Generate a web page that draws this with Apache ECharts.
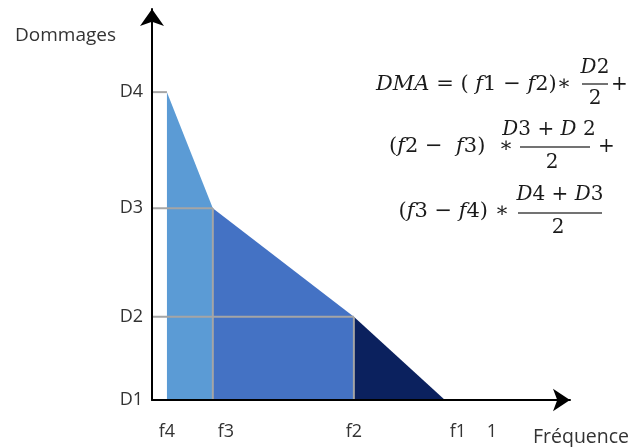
<!DOCTYPE html>
<html>
<head>
<meta charset="UTF-8">
<title>DMA</title>
<script src="https://cdn.jsdelivr.net/npm/echarts@6/dist/echarts.min.js"></script>
<style>
  html, body { margin: 0; padding: 0; background: #fff; }
  #main { width: 635px; height: 447px; }
</style>
</head>
<body>
<div id="main"></div>
<script>
// frequences (axe x) et dommages (axe y)
var freqLabels = ['f4', 'f3', 'f2', 'f1', '1'];
var freqValues = [0.044, 0.179, 0.594, 0.862, 1];
var damageLabels = ['D1', 'D2', 'D3', 'D4'];
var damageValues = [0, 0.27, 0.623, 1];

var f4 = freqValues[0], f3 = freqValues[1], f2 = freqValues[2], f1 = freqValues[3];
var D1 = damageValues[0], D2 = damageValues[1], D3 = damageValues[2], D4 = damageValues[3];

// zones sous la courbe
var regions = [
  { color: '#5b9bd5', pts: [[f4, D1], [f4, D4], [f3, D3], [f3, D1]] },
  { color: '#4472c4', pts: [[f3, D1], [f3, D3], [f2, D2], [f2, D1]] },
  { color: '#0b215e', pts: [[f2, D1], [f2, D2], [f1, D1]] }
];
// lignes de repere grises
var guides = [
  [[0, D4], [f4, D4]],
  [[0, D3], [f3, D3]],
  [[0, D2], [f2, D2]],
  [[f3, D1], [f3, D3]],
  [[f2, D1], [f2, D2]]
];

var labelShift = { f3: 14, f1: 12 };
var myChart = echarts.init(document.getElementById('main'));

var series = [];
regions.forEach(function (r) {
  series.push({
    type: 'custom',
    silent: true,
    z: 1,
    data: [[0, 0]],
    renderItem: function (params, api) {
      return {
        type: 'polygon',
        shape: { points: r.pts.map(function (p) { return api.coord(p); }) },
        style: { fill: r.color }
      };
    }
  });
});
guides.forEach(function (g) {
  series.push({
    type: 'line',
    silent: true,
    z: 3,
    symbol: 'none',
    data: g,
    lineStyle: { color: '#a5a5a5', width: 2 }
  });
});

var mathFont = '"DejaVu Serif", serif';
var txt = function (x, y, text, align, size) {
  size = size || 20;
  return {
    type: 'text', x: x, y: y,
    style: {
      text: text, fill: '#1a1a1a', font: size + 'px ' + mathFont,
      align: align || 'left', verticalAlign: 'middle',
      rich: { i: { fontStyle: 'italic', fontSize: size, fontFamily: mathFont, fill: '#1a1a1a' } }
    }
  };
};
var bar = function (x1, x2, y) {
  return { type: 'line', shape: { x1: x1, y1: y, x2: x2, y2: y }, style: { stroke: '#444', lineWidth: 1.5 } };
};

var option = {
  animation: false,
  grid: { left: 152, right: 65, top: 9, bottom: 47 },
  xAxis: {
    type: 'value', min: 0, max: 1.23, z: 5,
    splitLine: { show: false },
    axisTick: { show: false },
    axisLine: { show: true, onZero: false, symbol: ['none', 'arrow'], symbolSize: [17, 17], lineStyle: { color: '#000', width: 2 } },
    axisLabel: {
      customValues: freqValues, margin: 23, color: '#333', fontSize: 18, fontFamily: 'Open Sans',
      formatter: function (v) {
        var l = freqLabels[freqValues.indexOf(v)];
        return labelShift[l] ? '{s|' + l + '}' : l;
      },
      rich: { s: { padding: [0, 0, 0, 26], color: '#333', fontSize: 18, fontFamily: 'Open Sans' } }
    }
  },
  yAxis: {
    type: 'value', min: 0, max: 1.27, z: 5,
    splitLine: { show: false },
    axisTick: { show: false },
    axisLine: { show: true, onZero: false, symbol: ['none', 'arrow'], symbolSize: [18, 17], lineStyle: { color: '#000', width: 2 } },
    axisLabel: {
      customValues: damageValues, margin: 9, color: '#333', fontSize: 18, fontFamily: 'Open Sans',
      formatter: function (v) { return damageLabels[damageValues.indexOf(v)]; }
    }
  },
  graphic: [
    { type: 'text', x: 15, y: 36, style: { text: 'Dommages', fill: '#333', font: '19px "Open Sans"', verticalAlign: 'middle' } },
    { type: 'text', x: 533, y: 437, style: { text: 'Fréquence', fill: '#333', font: '19.5px "Open Sans"', verticalAlign: 'middle' } },
    txt(571, 85, '{i|DMA} = ( {i|f}1 − {i|f}2)∗', 'right', 21),
    txt(595, 68, '{i|D}2', 'center'), bar(582, 608, 84), txt(595, 99, '2', 'center'),
    txt(611, 85, '+'),
    txt(513, 147, '({i|f}2 −  {i|f}3)  ∗', 'right', 21),
    txt(549, 130, '{i|D}3 + {i|D} 2', 'center'), bar(520, 590, 147), txt(552, 163, '2', 'center'),
    txt(598, 147, '+'),
    txt(509, 212, '({i|f}3 − {i|f}4) ∗', 'right', 21),
    txt(560, 195, '{i|D}4 + {i|D}3', 'center'), bar(518, 602, 213), txt(558, 228, '2', 'center')
  ],
  series: series
};
myChart.setOption(option);
</script>
</body>
</html>
